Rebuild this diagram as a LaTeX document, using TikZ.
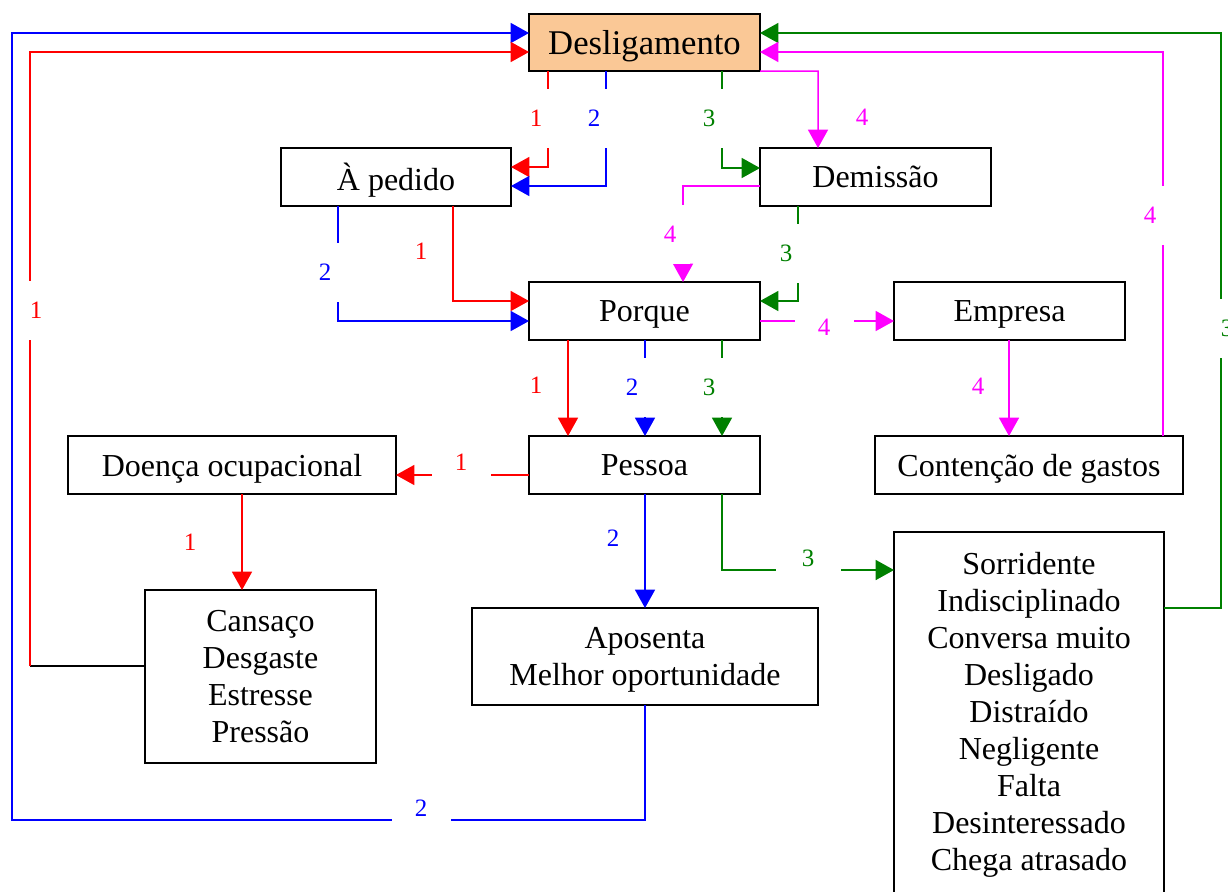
\documentclass[tikz,border=0pt]{standalone}
\usepackage{fontspec}
\setmainfont{Liberation Serif}
\usetikzlibrary{arrows.meta,calc}
\definecolor{peach}{RGB}{250,200,150}
\definecolor{cred}{RGB}{255,0,0}
\definecolor{cblue}{RGB}{0,0,255}
\definecolor{cgreen}{RGB}{0,128,0}
\definecolor{cmag}{RGB}{255,0,255}

\begin{document}
\begin{tikzpicture}[x=0.6pt, y=-0.6pt,
  box/.style={draw, line width=1.1pt, inner sep=0pt, outer sep=0pt, align=center,
              font=\fontsize{19.2}{22.2}\selectfont},
  onebox/.style={box, text depth=0pt, minimum height=34.8pt},
  link/.style={line width=0.9pt},
  arr/.style={link, -{Triangle[length=11pt,width=12pt]}},
  num/.style={font=\fontsize{15}{15}\selectfont, inner sep=0pt},
  vgap/.style={num, fill=white, minimum width=24pt, minimum height=35.4pt},
  hgap/.style={num, fill=white, minimum width=35.4pt, minimum height=24pt},
]
\useasboundingbox (0,0) rectangle (1228,891);
\clip (0,0) rectangle (1228,891);

% boxes
\node[onebox, fill=peach, minimum width=138.6pt, minimum height=34.2pt,
      font=\fontsize{20.8}{24}\selectfont] (desl) at (644.5,42.5) {Desligamento};
\node[onebox, minimum width=138pt] (pedido) at (396,177) {À pedido};
\node[onebox, minimum width=138.6pt] (dem) at (875.5,177) {Demissão};
\node[onebox, minimum width=138.6pt] (porque) at (644.5,311) {Porque};
\node[onebox, minimum width=138.6pt] (empresa) at (1009.5,311) {Empresa};
\node[onebox, minimum width=138.6pt] (pessoa) at (644.5,465) {Pessoa};
\node[onebox, minimum width=196.8pt] (doenca) at (232,465) {Doença ocupacional};
\node[onebox, minimum width=184.8pt] (cont) at (1029,465) {Contenção de gastos};
\node[box, minimum width=138.6pt, minimum height=103.8pt] (cans) at (260.5,676.5)
  {Cansaço\\Desgaste\\Estresse\\Pressão};
\node[box, text depth=0pt, minimum width=207.6pt, minimum height=58.2pt] (apos) at (645,656.5)
  {Aposenta\\Melhor oportunidade};
\node[box, minimum width=162pt, minimum height=219pt] (sorr) at (1029,714.5)
  {Sorridente\\Indisciplinado\\Conversa muito\\Desligado\\Distraído\\Negligente\\Falta\\Desinteressado\\Chega atrasado};

% Desligamento -> À pedido / Demissão
\draw[arr, cred] (548,0 |- desl.south) -- (548,167) -- (548,167 -| pedido.east);
\draw[arr, cblue] (606,0 |- desl.south) -- (606,186) -- (606,186 -| pedido.east);
\draw[arr, cgreen] (722,0 |- desl.south) -- (722,168) -- (722,168 -| dem.west);
\draw[arr, cmag] (desl.south east) -- (818,71) -- (818,0 |- dem.north);

% feedback loops into Desligamento
\coordinate (bl) at (12,820);
\draw[arr, cblue] (645,0 |- apos.south) -- (645,820) -- (bl) -- (12,33) -- (12,33 -| desl.west);
\coordinate (rl) at (30,666);
\draw[link, black] (cans.west |- rl) -- (rl);
\draw[arr, cred] (rl) -- (30,52) -- (30,52 -| desl.west);
\draw[arr, cgreen] (sorr.east |- 0,608) -- (1221,608) -- (1221,33) -- (1221,33 -| desl.east);
\draw[arr, cmag] (1163,0 |- cont.north) -- (1163,52) -- (1163,52 -| desl.east);

% À pedido / Demissão -> Porque
\draw[arr, cblue] (338,0 |- pedido.south) -- (338,321) -- (338,321 -| porque.west);
\draw[arr, cred] (453,0 |- pedido.south) -- (453,301) -- (453,301 -| porque.west);
\draw[arr, cmag] (dem.west |- 0,186) -- (683,186) -- (683,0 |- porque.north);
\draw[arr, cgreen] (798,0 |- dem.south) -- (798,301) -- (798,301 -| porque.east);

% Porque -> Empresa -> Contenção
\draw[arr, cmag] (porque.east |- 0,321) -- (empresa.west |- 0,321);
\draw[arr, cmag] (1009,0 |- empresa.south) -- (1009,0 |- cont.north);

% Porque -> Pessoa
\draw[arr, cred] (568,0 |- porque.south) -- (568,0 |- pessoa.north);
\draw[arr, cblue] (645,0 |- porque.south) -- (645,0 |- pessoa.north);
\draw[arr, cgreen] (722,0 |- porque.south) -- (722,0 |- pessoa.north);

% Pessoa -> consequences
\draw[arr, cred] (pessoa.west |- 0,475) -- (doenca.east |- 0,475);
\draw[arr, cred] (242,0 |- doenca.south) -- (242,0 |- cans.north);
\draw[arr, cblue] (645,0 |- pessoa.south) -- (645,0 |- apos.north);
\draw[arr, cgreen] (722,0 |- pessoa.south) -- (722,570) -- (722,570 -| sorr.west);

% path numbers (the filled ones open a gap in their line)
\node[vgap, text=cred] (n1) at (536,118) {1};
\node[vgap, text=cblue] (n2) at (594,118) {2};
\node[vgap, text=cgreen] (n3) at (709,118) {3};
\node[num, text=cmag] (n4) at (862,117) {4};
\node[hgap, text=cblue] (n5) at (421,808) {2};
\node[vgap, text=cred] (n6) at (36,310) {1};
\node[vgap, text=cgreen] (n7) at (1227,328) {3};
\node[vgap, text=cmag] (n8) at (1150,215) {4};
\node[vgap, text=cblue] (n9) at (325,272) {2};
\node[num, text=cred] (n10) at (421,251) {1};
\node[vgap, text=cmag] (n11) at (670,234) {4};
\node[vgap, text=cgreen] (n12) at (786,253) {3};
\node[hgap, text=cmag] (n13) at (824,327) {4};
\node[num, text=cmag] (n14) at (978,386) {4};
\node[num, text=cred] (n15) at (536,385) {1};
\node[vgap, text=cblue] (n16) at (632,387) {2};
\node[vgap, text=cgreen] (n17) at (709,387) {3};
\node[hgap, text=cred] (n18) at (461,462) {1};
\node[num, text=cred] (n19) at (190,542) {1};
\node[num, text=cblue] (n20) at (613,538) {2};
\node[hgap, text=cgreen, minimum width=39pt] (n21) at (808,558) {3};
\end{tikzpicture}
\end{document}
